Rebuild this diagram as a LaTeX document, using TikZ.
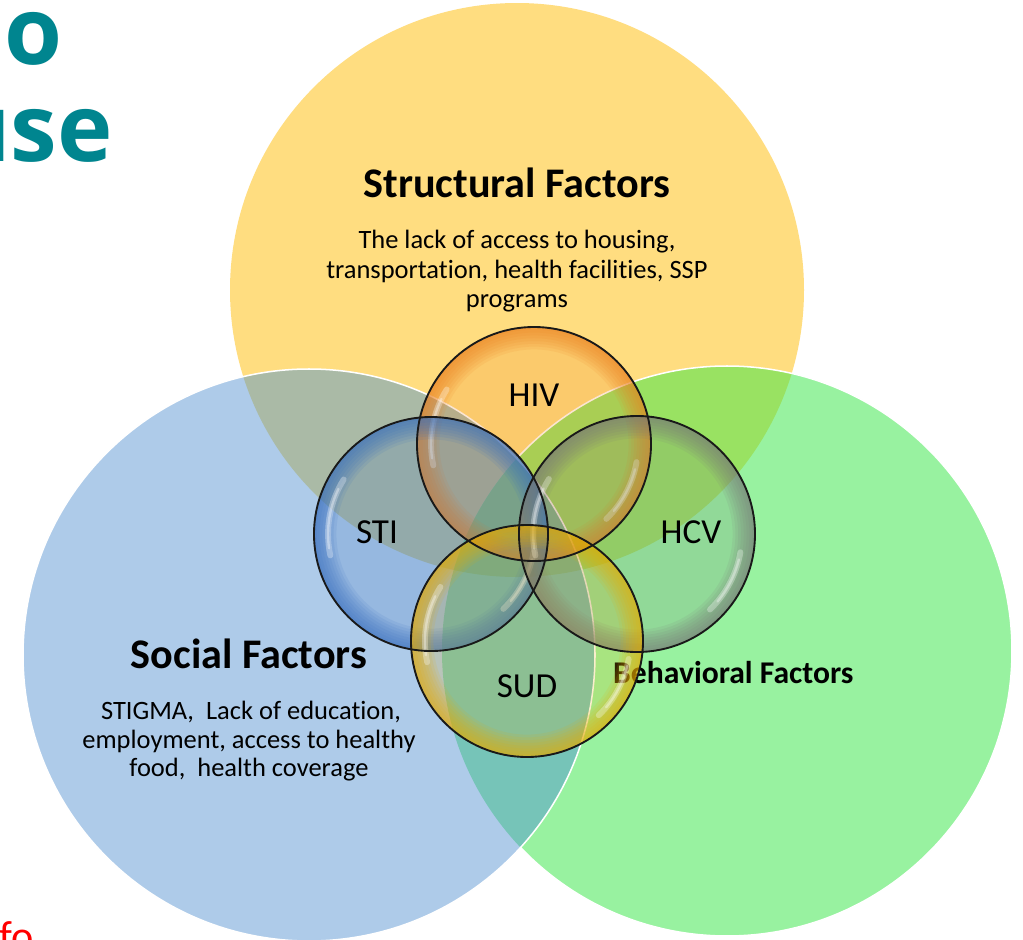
\documentclass[tikz,border=0pt]{standalone}
\usepackage{fontspec}
\setmainfont{Carlito}[Ligatures=NoCommon]
\newfontfamily\opensans{Open Sans}
\usetikzlibrary{calc}
\definecolor{cY}{RGB}{255,221,128}
\definecolor{cB}{RGB}{174,203,233}
\definecolor{cG}{RGB}{152,242,160}
\definecolor{cYB}{RGB}{170,186,166}
\definecolor{cYG}{RGB}{153,226,98}
\definecolor{cBG}{RGB}{118,196,184}
\definecolor{cYBG}{RGB}{114,186,148}
\definecolor{tealtitle}{RGB}{0,133,143}
\definecolor{bHIV}{RGB}{236,128,30}
\definecolor{bSTI}{RGB}{55,110,190}
\definecolor{bHCV}{RGB}{120,120,120}
\definecolor{bSUD}{RGB}{232,172,0}
\tikzset{
  lbl/.style={inner sep=0pt, anchor=base, font=\fontsize{30}{36}\selectfont},
  ttl/.style={inner sep=0pt, anchor=base, font=\bfseries\fontsize{36}{43}\selectfont},
  body/.style={inner sep=0pt, anchor=base, font=\fontsize{22.6}{26}\selectfont},
  rimline/.style={black!90, line width=1.6pt},
  shine/.style={white, opacity=0.3, line width=5pt, line cap=round},
  shinecore/.style={white, opacity=0.35, line width=2pt, line cap=round},
}
\newcommand\bubblefill[3]{%
  \fill[#3, fill opacity=0.2] (#1) circle (#2);
  \foreach \k in {1,...,8}{%
    \fill[#3, fill opacity=0.115, even odd rule] (#1) circle (#2) (#1) circle ({#2-\k*2.8});
  }
  \draw[shine] ($(#1)+(168:{0.88*#2})$) arc (168:212:{0.88*#2});
  \draw[shinecore] ($(#1)+(172:{0.88*#2})$) arc (172:206:{0.88*#2});
  \draw[shine] ($(#1)+(10:{0.89*#2})$) arc (10:46:{0.89*#2});
  \draw[shinecore] ($(#1)+(14:{0.89*#2})$) arc (14:40:{0.89*#2});
}
\begin{document}
\begin{tikzpicture}[x=0.03cm,y=-0.03cm]
\useasboundingbox (0,0) rectangle (1023,939);
\fill[white] (0,0) rectangle (1023,939);
\coordinate (Yc) at (517,290);
\coordinate (Bc) at (309,655);
\coordinate (Gc) at (727,651);
\coordinate (HIVc) at (534,444);
\coordinate (STIc) at (431,534);
\coordinate (HCVc) at (637,534);
\coordinate (SUDc) at (527,641);
% big circles
\fill[cY] (Yc) circle (287);
\fill[cG] (Gc) circle (285);
\begin{scope}
  \clip (Gc) circle (285);
  \fill[cYG] (Yc) circle (287);
\end{scope}
\draw[white, line width=1.3pt] (Gc) circle (285);
\fill[cB] (Bc) circle (286);
\begin{scope}
  \clip (Bc) circle (286);
  \fill[cYB] (Yc) circle (287);
  \fill[cBG] (Gc) circle (285);
  \clip (Gc) circle (285);
  \fill[cYBG] (Yc) circle (287);
\end{scope}
\draw[white, line width=1.3pt] (Bc) circle (286);
% partial titles at the edges
\node[inner sep=0pt, anchor=base east, text=tealtitle, font=\opensans\bfseries\fontsize{80}{96}\selectfont] (tA) at (63,64) {o};
\node[inner sep=0pt, anchor=base east, text=tealtitle, font=\opensans\bfseries\fontsize{80}{96}\selectfont] (tB) at (113,161) {use};
\node[inner sep=0pt, anchor=base west, text=red, font=\fontsize{36}{43}\selectfont] (fo) at (-1,950) {fo};
% texts in big circles
\node[ttl] (st) at (517,197) {Structural Factors};
\node[body] (st1) at (517,248) {The lack of access to housing,};
\node[body] (st2) at (517,278) {transportation, health facilities, SSP};
\node[body] (st3) at (517,307) {programs};
\node[ttl] (so) at (249,668) {Social Factors};
\node[body] (so1) at (251,719) {STIGMA,\ \ Lack of education,};
\node[body] (so2) at (249,748) {employment, access to healthy};
\node[body] (so3) at (249,776) {food,\ \ health coverage};
\node[inner sep=0pt, anchor=base west, font=\bfseries\fontsize{27}{32}\selectfont] (be) at (613,683) {Behavioral Factors};
% bubbles
\bubblefill{HIVc}{117}{bHIV}
\bubblefill{STIc}{117}{bSTI}
\bubblefill{HCVc}{118}{bHCV}
\bubblefill{SUDc}{116}{bSUD}
\draw[rimline] (HIVc) circle (117);
\draw[rimline] (STIc) circle (117);
\draw[rimline] (HCVc) circle (118);
\draw[rimline] (SUDc) circle (116);
\node[lbl] (hiv) at (534,406) {HIV};
\node[lbl] (sti) at (377,543) {STI};
\node[lbl] (hcv) at (691,543) {HCV};
\node[lbl] (sud) at (527,697) {SUD};
\end{tikzpicture}
\end{document}
